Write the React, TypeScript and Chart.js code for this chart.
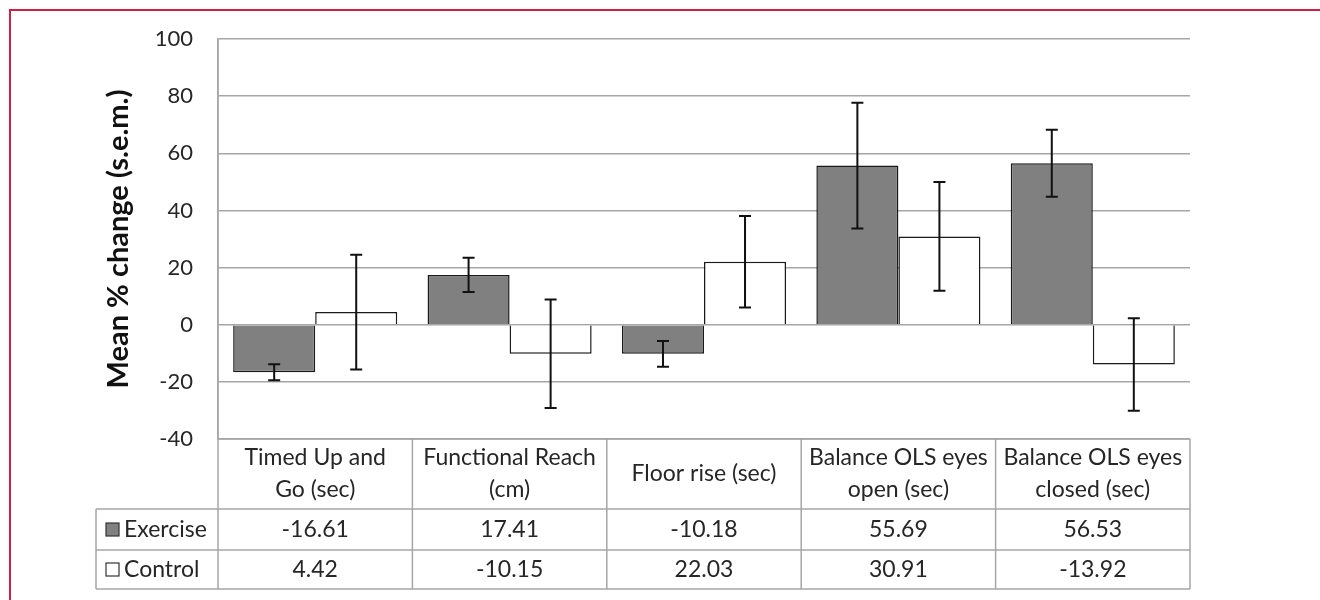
import React, { useEffect, useRef } from 'react';
import { Chart, registerables } from 'chart.js';

Chart.register(...registerables);

const categories: string[][] = [
  ['Timed Up and', 'Go (sec)'],
  ['Functional Reach', '(cm)'],
  ['Floor rise (sec)'],
  ['Balance OLS eyes', 'open (sec)'],
  ['Balance OLS eyes', 'closed (sec)'],
];
const seriesNames = ['Exercise', 'Control'];
const exerciseValues = [-16.61, 17.41, -10.18, 55.69, 56.53];
const controlValues = [4.42, -10.15, 22.03, 30.91, -13.92];
const exerciseSem = [2.8, 6.0, 4.5, 22.0, 11.7];
const controlSem = [20.1, 19.0, 16.0, 19.0, 16.2];
const tableExercise = ['-16.61', '17.41', '-10.18', '55.69', '56.53'];
const tableControl = ['4.42', '-10.15', '22.03', '30.91', '-13.92'];
const yTicks = [-40, -20, 0, 20, 40, 60, 80, 100];
const yTitle = 'Mean % change (s.e.m.)';

const FONT = 'Lato, "Open Sans", "DejaVu Sans", sans-serif';
const TEXT = '#262626';
const GRID = '#a6a6a6';
const EX_FILL = '#808080';

const semSets = [exerciseSem, controlSem];

const framePlugin = {
  id: 'frame',
  beforeDraw(chart: any) {
    const { ctx, width, height } = chart;
    ctx.save();
    ctx.fillStyle = '#ffffff';
    ctx.fillRect(0, 0, width, height);
    ctx.strokeStyle = '#d0203f';
    ctx.lineWidth = 2;
    ctx.beginPath();
    ctx.moveTo(10, height);
    ctx.lineTo(10, 10);
    ctx.lineTo(width, 10);
    ctx.stroke();
    ctx.restore();
  },
};

const errorBarPlugin = {
  id: 'errorBars',
  afterDatasetsDraw(chart: any) {
    const { ctx, scales } = chart;
    const y = scales.y;
    ctx.save();
    ctx.strokeStyle = '#111111';
    ctx.lineWidth = 2;
    chart.data.datasets.forEach((ds: any, di: number) => {
      const meta = chart.getDatasetMeta(di);
      meta.data.forEach((bar: any, i: number) => {
        const v = ds.data[i];
        const s = semSets[di][i];
        const yTop = y.getPixelForValue(v + s);
        const yBot = y.getPixelForValue(v - s);
        const cx = bar.x;
        ctx.beginPath();
        ctx.moveTo(cx, yTop);
        ctx.lineTo(cx, yBot);
        ctx.moveTo(cx - 6, yTop);
        ctx.lineTo(cx + 6, yTop);
        ctx.moveTo(cx - 6, yBot);
        ctx.lineTo(cx + 6, yBot);
        ctx.stroke();
      });
    });
    ctx.restore();
  },
};

const tablePlugin = {
  id: 'dataTable',
  afterDraw(chart: any) {
    const { ctx, chartArea } = chart;
    const n = categories.length;
    const left = chartArea.left;
    const right = chartArea.right;
    const top = chartArea.bottom;
    const cw = (right - left) / n;
    const headerBottom = top + 70;
    const row1Bottom = headerBottom + 41;
    const row2Bottom = row1Bottom + 39;
    const legendLeft = 96;

    ctx.save();
    ctx.strokeStyle = GRID;
    ctx.lineWidth = 1.5;
    ctx.beginPath();
    ctx.moveTo(left, chartArea.top);
    ctx.lineTo(left, row2Bottom);
    for (let i = 1; i <= n; i++) {
      const xx = left + cw * i;
      ctx.moveTo(xx, top);
      ctx.lineTo(xx, row2Bottom);
    }
    ctx.moveTo(left, top);
    ctx.lineTo(right, top);
    ctx.moveTo(legendLeft, headerBottom);
    ctx.lineTo(right, headerBottom);
    ctx.moveTo(legendLeft, row1Bottom);
    ctx.lineTo(right, row1Bottom);
    ctx.moveTo(legendLeft, row2Bottom);
    ctx.lineTo(right, row2Bottom);
    ctx.moveTo(legendLeft, headerBottom);
    ctx.lineTo(legendLeft, row2Bottom);
    ctx.stroke();

    ctx.fillStyle = TEXT;
    ctx.font = `23px ${FONT}`;
    ctx.textAlign = 'center';
    ctx.textBaseline = 'middle';
    const x = chart.scales.x;
    const headerMid = (top + headerBottom) / 2;
    categories.forEach((lines, i) => {
      const cx = x.getPixelForValue(i);
      const lh = 32;
      const start = headerMid - ((lines.length - 1) * lh) / 2;
      lines.forEach((t, k) => ctx.fillText(t, cx, start + k * lh));
    });
    const r1 = (headerBottom + row1Bottom) / 2;
    const r2 = (row1Bottom + row2Bottom) / 2;
    tableExercise.forEach((t, i) => ctx.fillText(t, x.getPixelForValue(i), r1));
    tableControl.forEach((t, i) => ctx.fillText(t, x.getPixelForValue(i), r2));

    ctx.textAlign = 'left';
    const rows = [r1, r2];
    const fills = [EX_FILL, '#ffffff'];
    seriesNames.forEach((name, k) => {
      const cy = rows[k];
      ctx.fillStyle = fills[k];
      ctx.fillRect(106, cy - 6.5, 13, 13);
      ctx.strokeStyle = '#333333';
      ctx.lineWidth = 1.2;
      ctx.strokeRect(106, cy - 6.5, 13, 13);
      ctx.fillStyle = TEXT;
      ctx.fillText(name, 124, cy);
    });
    ctx.restore();
  },
};

export default function App() {
  const ref = useRef<HTMLCanvasElement | null>(null);

  useEffect(() => {
    if (!ref.current) return;
    const chart = new Chart(ref.current, {
      type: 'bar',
      data: {
        labels: categories.map((c) => c.join(' ')),
        datasets: [
          {
            label: seriesNames[0],
            data: exerciseValues,
            backgroundColor: EX_FILL,
            borderColor: '#1a1a1a',
            borderWidth: 1.5,
            categoryPercentage: 0.844,
            barPercentage: 1,
          },
          {
            label: seriesNames[1],
            data: controlValues,
            backgroundColor: '#ffffff',
            borderColor: '#1a1a1a',
            borderWidth: 1.5,
            categoryPercentage: 0.844,
            barPercentage: 1,
          },
        ],
      },
      options: {
        responsive: false,
        animation: false,
        devicePixelRatio: 1,
        layout: { padding: { left: 100, top: 39, right: 130, bottom: 161 } },
        plugins: {
          legend: { display: false },
          tooltip: { enabled: false },
          title: { display: false },
        },
        scales: {
          x: {
            display: false,
            offset: true,
            grid: { display: false },
          },
          y: {
            min: -40,
            max: 100,
            afterFit: (scale: any) => {
              scale.width = 118;
            },
            afterBuildTicks: (scale: any) => {
              scale.ticks = yTicks.map((v) => ({ value: v }));
            },
            ticks: {
              padding: 25,
              color: TEXT,
              font: { family: FONT, size: 22 },
            },
            grid: { color: GRID, lineWidth: 1.5, drawTicks: false },
            border: { display: true, color: GRID, width: 1.5 },
            title: {
              display: true,
              text: yTitle,
              color: '#111111',
              font: { family: FONT, size: 29, weight: 'bold' },
              padding: { top: 1, bottom: 0 },
            },
          },
        },
      },
      plugins: [framePlugin, errorBarPlugin, tablePlugin],
    });
    return () => chart.destroy();
  }, []);

  return (
    <div style={{ position: 'absolute', left: 0, top: 0, width: 1320, height: 600 }}>
      <canvas ref={ref} width={1320} height={600} style={{ width: 1320, height: 600 }} />
    </div>
  );
}
